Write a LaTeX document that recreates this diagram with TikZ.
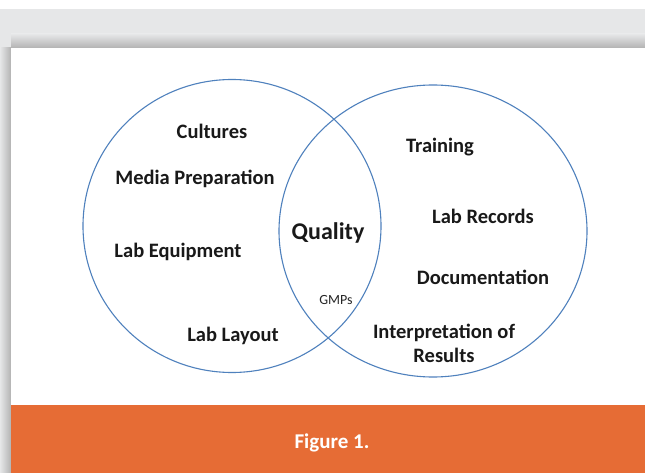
\documentclass[tikz,border=0pt]{standalone}
\usepackage{fontspec}
\setmainfont{Carlito}
\usetikzlibrary{shapes.geometric}
\definecolor{pagegray}{HTML}{E6E7E8}
\definecolor{barorange}{HTML}{E66C35}
\definecolor{vennblue}{HTML}{4F81BD}

\begin{document}
\begin{tikzpicture}[x=1pt, y=1pt,
	setring/.style={draw=vennblue, line width=1.1pt, ellipse, inner sep=0pt},
	item/.style={font=\fontsize{20.5}{22}\selectfont\bfseries, text=black!90, align=center}]

		\useasboundingbox (0,0) rectangle (645,-473);
		\fill[white] (0,0) rectangle (645,-473);
		\fill[pagegray] (0,-9) rectangle (645,-473);
		% panel shadow
		\shade[top color=pagegray, bottom color=black!30] (11,-34) rectangle (645,-48);
		\shade[left color=pagegray, right color=black!30] (0,-48) rectangle (11,-473);
		\fill[white] (11,-48) rectangle (645,-405);
		\fill[barorange] (11,-405) rectangle (645,-473);
		\node[font=\fontsize{21}{23}\selectfont\bfseries, text=white] (caption) at (332,-443) {Figure 1.};

		% the two sets
		\node[setring, minimum width=298pt, minimum height=293pt] (labset) at (232,-226) {};
		\node[setring, minimum width=308pt, minimum height=292pt] (staffset) at (433,-231) {};

		\node[item] (cultures) at (212,-131) {Cultures};
		\node[item] (media) at (195,-179) {Media Preparation};
		\node[item] (equipment) at (178,-252) {Lab Equipment};
		\node[item] (layout) at (233,-336) {Lab Layout};

		\node[item, font=\fontsize{24}{26}\selectfont\bfseries] (quality) at (328,-233) {Quality};
		\node[font=\fontsize{14}{16}\selectfont, text=black!85] (gmps) at (336,-300) {GMPs};

		\node[item] (training) at (440,-147) {Training};
		\node[item] (records) at (483,-216) {Lab Records};
		\node[item] (documentation) at (483,-277) {Documentation};
		\node[item, font=\fontsize{20.5}{24}\selectfont\bfseries] (interpretation) at (444,-343) {Interpretation of\\Results};

	\end{tikzpicture}
\end{document}
